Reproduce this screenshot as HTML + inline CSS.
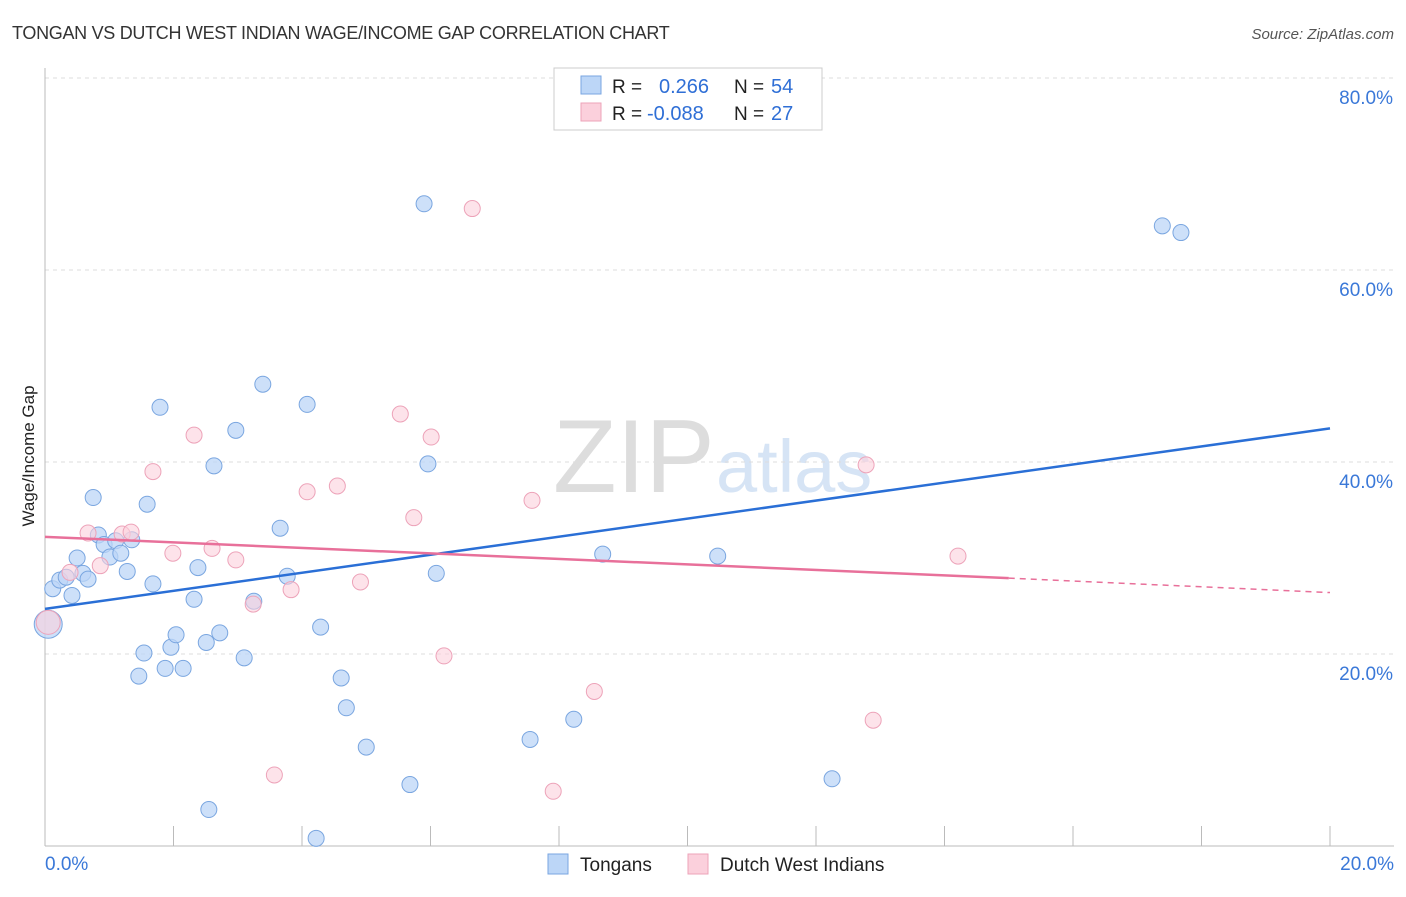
<!DOCTYPE html>
<html><head><meta charset="utf-8"><style>
body{margin:0;background:#fff;font-family:"Liberation Sans",sans-serif;}
svg text{font-family:"Liberation Sans",sans-serif;}
</style></head><body>
<svg id="c" width="1406" height="892" viewBox="0 0 1406 892" xmlns="http://www.w3.org/2000/svg">
<text x="12" y="39" font-size="18" fill="#333" letter-spacing="-0.3">TONGAN VS DUTCH WEST INDIAN WAGE/INCOME GAP CORRELATION CHART</text>
<text x="1394" y="39" font-size="15" fill="#555" text-anchor="end" font-style="italic">Source: ZipAtlas.com</text>
<text x="34" y="456" font-size="17" fill="#222" text-anchor="middle" transform="rotate(-90 34 456)">Wage/Income Gap</text>
<g><text x="553" y="492" font-size="104" fill="#ddd" font-family="Liberation Serif">ZIP</text><text x="716" y="492" font-size="74" fill="#d6e4f5">atlas</text></g>
<g id="grid"></g><g id="pts"></g><g id="lines"></g>
<g>
<rect x="554" y="68" width="268" height="62" fill="#fff" stroke="#ccc"/>
<rect x="581" y="76" width="20" height="18" fill="#bcd6f7" stroke="#7aa6e0"/>
<rect x="581" y="103" width="20" height="18" fill="#fbd0dc" stroke="#eda3b9"/>
<text x="612" y="93" font-size="19" fill="#222">R =</text><text x="659" y="93" font-size="20" fill="#2f6fd6">0.266</text>
<text x="734" y="93" font-size="19" fill="#222">N =</text><text x="771" y="93" font-size="20" fill="#2f6fd6">54</text>
<text x="612" y="120" font-size="19" fill="#222">R =</text><text x="647" y="120" font-size="20" fill="#2f6fd6">-0.088</text>
<text x="734" y="120" font-size="19" fill="#222">N =</text><text x="771" y="120" font-size="20" fill="#2f6fd6">27</text>
</g>
<g>
<rect x="548" y="854" width="20" height="20" fill="#bcd6f7" stroke="#7aa6e0"/><text x="580" y="871" font-size="19" fill="#222">Tongans</text>
<rect x="688" y="854" width="20" height="20" fill="#fbd0dc" stroke="#eda3b9"/><text x="720" y="871" font-size="19" fill="#222">Dutch West Indians</text>
</g>
</svg>
<script>
const yTicks=[20,40,60,80];
const xTickLabels=["0.0%","20.0%"];
const tongX=[0.12,0.23,0.33,0.42,0.5,0.59,0.67,0.75,0.83,0.92,1.01,1.1,1.18,1.28,1.35,1.46,1.54,1.59,1.68,1.79,1.87,1.96,2.04,2.15,2.32,2.38,2.51,2.55,2.63,2.72,2.97,3.1,3.25,3.39,3.66,3.77,4.08,4.22,4.29,4.61,4.69,5.0,5.68,5.9,5.96,6.09,7.55,8.23,8.68,10.47,12.25,17.39,17.68,0.05];
const tongY=[26.8,27.7,28.0,26.1,30.0,28.4,27.8,36.3,32.4,31.4,30.1,31.8,30.5,28.6,31.9,17.7,20.1,35.6,27.3,45.7,18.5,20.7,22.0,18.5,25.7,29.0,21.2,3.8,39.6,22.2,43.3,19.6,25.5,48.1,33.1,28.1,46.0,0.8,22.8,17.5,14.4,10.3,6.4,66.9,39.8,28.4,11.1,13.2,30.4,30.2,7.0,64.6,63.9,23.1];
const dwiX=[0.05,0.39,0.67,0.86,1.2,1.34,1.68,1.99,2.32,2.6,2.97,3.24,3.57,3.83,4.08,4.55,4.91,5.53,5.74,6.01,6.21,6.65,7.58,7.91,8.55,12.78,12.89,14.21];
const dwiY=[23.3,28.5,32.6,29.2,32.5,32.7,39.0,30.5,42.8,31.0,29.8,25.2,7.4,26.7,36.9,37.5,27.5,45.0,34.2,42.6,19.8,66.4,36.0,5.7,16.1,39.7,13.1,30.2];
const trendX=[0,20];
const tongTrend=[24.7,43.5];
const dwiTrendX=[0,15,20];
const dwiTrend=[32.2,27.9,26.4];
const X=v=>45+v/20*1285, Y=v=>846-v*9.6;
const NS="http://www.w3.org/2000/svg";
function mk(p,t,a){const e=document.createElementNS(NS,t);for(const k in a)e.setAttribute(k,a[k]);p.appendChild(e);return e;}
const g=document.getElementById('grid');
yTicks.forEach(v=>{
 const l=mk(g,'line',{x1:45,x2:1394,y1:Y(v),y2:Y(v),stroke:'#ddd','stroke-dasharray':'4 4'});
 
 
 const t=mk(g,'text',{x:1393,y:Y(v)+26,'font-size':19,fill:'#3a78d8','text-anchor':'end'});t.textContent=v.toFixed(1)+'%';
 
 
});
const ax=mk(g,'line',{x1:45,x2:45,y1:68,y2:846,stroke:'#bbb'});


const bx=mk(g,'line',{x1:45,x2:1394,y1:846,y2:846,stroke:'#bbb'});


for(let i=0;i<=10;i++){const x=45+i*128.5;const t=mk(g,'line',{x1:x,x2:x,y1:826,y2:846,stroke:'#bbb'});
 
 }
xTickLabels.forEach((s,i)=>{const t=mk(g,'text',{x:i?1394:45,y:870,'font-size':19,fill:'#3a78d8','text-anchor':i?'end':'start'});t.textContent=s;
 
 });
const p=document.getElementById('pts');
tongX.forEach((v,i)=>{const big=i===tongX.length-1;const c=mk(p,'circle',{cx:X(v),cy:Y(tongY[i]),r:big?14:8,fill:'#bcd6f7','fill-opacity':0.75,stroke:'#7aa6e0'});
 
 });
dwiX.forEach((v,i)=>{const c=mk(p,'circle',{cx:X(v),cy:Y(dwiY[i]),r:i===0?12:8,fill:'#fbd0dc','fill-opacity':0.6,stroke:'#eda3b9'});
 
 });
const L=document.getElementById('lines');
const t1=mk(L,'line',{x1:X(trendX[0]),y1:Y(tongTrend[0]),x2:X(trendX[1]),y2:Y(tongTrend[1]),stroke:'#2a6fd6','stroke-width':2.5});


const t2=mk(L,'line',{x1:X(dwiTrendX[0]),y1:Y(dwiTrend[0]),x2:X(dwiTrendX[1]),y2:Y(dwiTrend[1]),stroke:'#e8709a','stroke-width':2.5});


const t3=mk(L,'line',{x1:X(dwiTrendX[1]),y1:Y(dwiTrend[1]),x2:X(dwiTrendX[2]),y2:Y(dwiTrend[2]),stroke:'#e8709a','stroke-width':1.5,'stroke-dasharray':'6 5'});


</script>
</body></html>
